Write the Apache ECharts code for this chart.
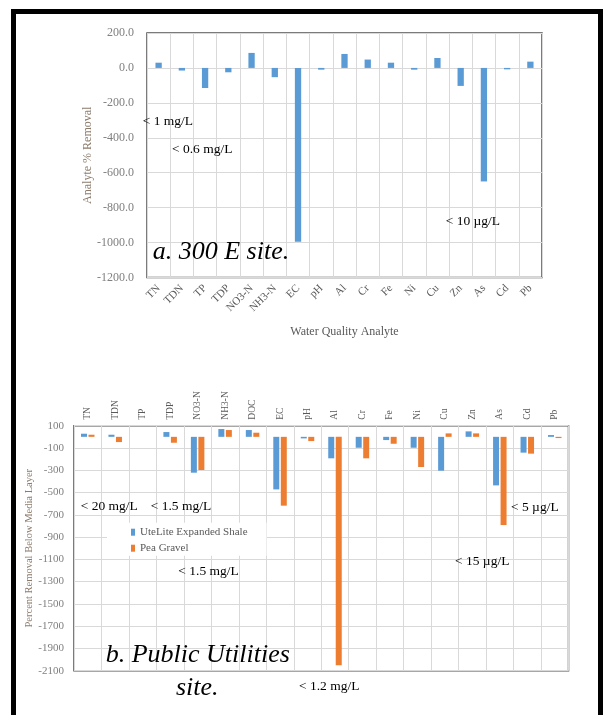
<!DOCTYPE html>
<html>
<head>
<meta charset="utf-8">
<script src="https://cdn.jsdelivr.net/npm/echarts@6/dist/echarts.min.js"></script>
<style>
  html, body { margin: 0; padding: 0; background: #fff; }
  #chart { width: 603px; height: 715px; }
</style>
</head>
<body>
<div id="chart"></div>
<script>
// Panel a: 300 E site
const catsA = ['TN', 'TDN', 'TP', 'TDP', 'NO3-N', 'NH3-N', 'EC', 'pH', 'Al', 'Cr', 'Fe', 'Ni', 'Cu', 'Zn', 'As', 'Cd', 'Pb'];
const removalA = [30, -15, -115, -25, 86, -53, -995, -10, 80, 48, 30, -10, 57, -103, -650, -8, 36];
const ticksA = { min: -1200, max: 200, step: 200 };

// Panel b: Public Utilities site
const catsB = ['TN', 'TDN', 'TP', 'TDP', 'NO3-N', 'NH3-N', 'DOC', 'EC', 'pH', 'Al', 'Cr', 'Fe', 'Ni', 'Cu', 'Zn', 'As', 'Cd', 'Pb'];
const uteLite = [28, 19, null, 43, -322, 70, 61, -472, -14, -193, -98, -29, -98, -304, 49, -436, -142, 16];
const peaGravel = [19, -47, null, -53, -298, 61, 37, -618, -38, -2050, -193, -62, -271, 31, 31, -792, -151, -11];
const ticksB = { min: -2100, max: 100, step: 200 };

const serif = '"Liberation Serif", "Times New Roman", serif';
const BLUE = '#5B9BD5';
const ORANGE = '#ED7D31';
const GRID = '#D9D9D9';

const chart = echarts.init(document.getElementById('chart'), null, { renderer: 'canvas' });

function note(text, x, cy, size, italic) {
  return {
    type: 'text', x: x, y: cy, z: 100,
    style: {
      text: text, fill: '#000',
      font: (italic ? 'italic ' : '') + size + 'px ' + serif,
      textAlign: 'left', textVerticalAlign: 'middle'
    }
  };
}

const option = {
  animation: false,
  backgroundColor: '#fff',
  grid: [
    { left: 147, top: 33, width: 395, height: 244.5, show: true, borderColor: '#505050', borderWidth: 1.5, backgroundColor: 'transparent' },
    { left: 74, top: 425.7, width: 494.5, height: 245, show: true, borderColor: '#505050', borderWidth: 1.5, backgroundColor: 'transparent' }
  ],
  legend: {
    data: ['UteLite Expanded Shale', 'Pea Gravel'],
    orient: 'vertical',
    left: 107, top: 522.7,
    backgroundColor: '#fff',
    padding: [4, 19, 2, 24],
    itemWidth: 4, itemHeight: 7, itemGap: 5,
    icon: 'rect',
    textStyle: { fontFamily: serif, fontSize: 11, color: '#595959' }
  },
  xAxis: [
    {
      gridIndex: 0, type: 'category', data: catsA,
      axisLine: { show: false }, axisTick: { show: false },
      splitLine: { show: true, lineStyle: { color: GRID, width: 1 } },
      axisLabel: { rotate: 45, margin: 9, fontFamily: serif, fontSize: 11, color: '#595959', interval: 0 },
      name: 'Water Quality Analyte', nameLocation: 'middle', nameGap: 48, nameMoveOverlap: false,
      nameTextStyle: { fontFamily: serif, fontSize: 12, color: '#595959' }
    },
    {
      gridIndex: 1, type: 'category', data: catsB, position: 'top',
      axisLine: { show: false }, axisTick: { show: false },
      splitLine: { show: true, lineStyle: { color: GRID, width: 1 } },
      axisLabel: { rotate: 90, margin: 6, fontFamily: serif, fontSize: 9.5, color: '#595959', interval: 0 }
    }
  ],
  yAxis: [
    {
      gridIndex: 0, type: 'value', min: ticksA.min, max: ticksA.max, interval: ticksA.step,
      axisLine: { show: false }, axisTick: { show: false },
      splitLine: { lineStyle: { color: GRID, width: 1 } },
      axisLabel: { margin: 13, fontFamily: serif, fontSize: 12, color: '#808080', formatter: v => v.toFixed(1) },
      name: 'Analyte % Removal', nameLocation: 'middle', nameGap: 53, nameMoveOverlap: false,
      nameTextStyle: { fontFamily: serif, fontSize: 12, color: '#8C7B6B' }
    },
    {
      gridIndex: 1, type: 'value', min: ticksB.min, max: ticksB.max, interval: ticksB.step,
      axisLine: { show: false }, axisTick: { show: false },
      splitLine: { lineStyle: { color: GRID, width: 1 } },
      axisLabel: { margin: 10, fontFamily: serif, fontSize: 11, color: '#808080', formatter: v => String(v) },
      name: 'Percent Removal Below Media Layer', nameLocation: 'middle', nameGap: 39, nameMoveOverlap: false,
      nameTextStyle: { fontFamily: serif, fontSize: 10.5, color: '#8C7B6B' }
    }
  ],
  series: [
    {
      name: 'Analyte % Removal', type: 'bar', xAxisIndex: 0, yAxisIndex: 0,
      data: removalA, barWidth: 6.3, itemStyle: { color: BLUE }
    },
    {
      name: 'UteLite Expanded Shale', type: 'bar', xAxisIndex: 1, yAxisIndex: 1,
      data: uteLite, barWidth: 6, barGap: '25%', itemStyle: { color: BLUE }
    },
    {
      name: 'Pea Gravel', type: 'bar', xAxisIndex: 1, yAxisIndex: 1,
      data: peaGravel, barWidth: 6, barGap: '25%', itemStyle: { color: ORANGE }
    }
  ],
  graphic: [
    // outer frame
    { type: 'rect', z: 100, shape: { x: 11, y: 9, width: 592, height: 5 }, style: { fill: '#000' } },
    { type: 'rect', z: 100, shape: { x: 11, y: 9, width: 5, height: 706 }, style: { fill: '#000' } },
    { type: 'rect', z: 100, shape: { x: 598, y: 9, width: 5, height: 706 }, style: { fill: '#000' } },
    // panel a notes
    note('< 1 mg/L', 142.7, 121, 13.5),
    note('< 0.6 mg/L', 172, 149, 13.5),
    note('< 10 µg/L', 445.7, 221.7, 13.5),
    note('a. 300 E site.', 152.7, 251.7, 26, true),
    // panel b notes
    note('< 20 mg/L', 80.7, 506.5, 13.5),
    note('< 1.5 mg/L', 150.7, 506.5, 13.5),
    note('< 1.5 mg/L', 178.3, 571.7, 13.5),
    note('< 5 µg/L', 511, 507.3, 13.5),
    note('< 15 µg/L', 455, 561.7, 13.5),
    note('< 1.2 mg/L', 299, 686, 13.5),
    note('b. Public Utilities', 105.7, 655, 26, true),
    note('site.', 176, 688.3, 26, true)
  ]
};

chart.setOption(option);
</script>
</body>
</html>
